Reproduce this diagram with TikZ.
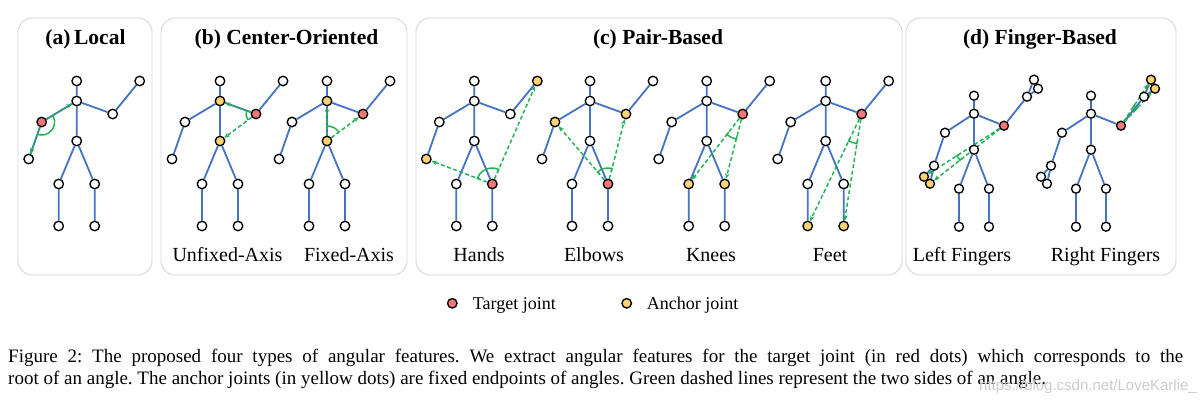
\documentclass[tikz,border=0pt]{standalone}
\usepackage{fontspec}
\setmainfont{Liberation Serif}
\newfontfamily\wmfont{Liberation Sans}
\usetikzlibrary{arrows.meta,calc,backgrounds}
\frenchspacing
\definecolor{tred}{RGB}{242,120,120}
\definecolor{tyel}{RGB}{255,210,115}
\definecolor{sblue}{RGB}{68,114,196}
\definecolor{ggreen}{RGB}{30,178,80}
\definecolor{boxgray}{RGB}{214,214,214}
\tikzset{
 jt/.style={circle, draw=black, line width=1.35pt, fill=white, minimum size=9.5pt, inner sep=0pt},
 jts/.style={jt, minimum size=9pt},
 jred/.style={fill=tred},
 jyel/.style={fill=tyel},
 bone/.style={draw=sblue, line width=1.8pt},
 gline/.style={draw=ggreen, line width=1.45pt, dash pattern=on 4pt off 2.5pt, -{Stealth[length=5.5pt,width=4.5pt]}},
 garc/.style={draw=ggreen, line width=1.45pt},
 panel/.style={draw=boxgray, line width=0.9pt, rounded corners=14pt},
 ttl/.style={font=\fontsize{21.5}{24}\selectfont\bfseries, anchor=base, inner sep=0pt},
 lbl/.style={font=\fontsize{20}{24}\selectfont, anchor=base, inner sep=0pt},
 leg/.style={font=\fontsize{18}{22}\selectfont, anchor=base west, inner sep=0pt},
 capt/.style={font=\fontsize{19}{22}\selectfont, anchor=base west, inner sep=0pt},
 c-a-lel/.style=jred,
 c-b1-rel/.style=jred, c-b1-ne/.style=jyel, c-b1-hip/.style=jyel,
 c-b2-rel/.style=jred, c-b2-ne/.style=jyel, c-b2-hip/.style=jyel,
 c-c1-rkn/.style=jred, c-c1-lha/.style=jyel, c-c1-rha/.style=jyel,
 c-c2-rkn/.style=jred, c-c2-lel/.style=jyel, c-c2-rel/.style=jyel,
 c-c3-rel/.style=jred, c-c3-lkn/.style=jyel, c-c3-rkn/.style=jyel,
 c-c4-rel/.style=jred, c-c4-lft/.style=jyel, c-c4-rft/.style=jyel,
 c-d1-rel/.style=jred, c-d1-lf1/.style=jyel, c-d1-lf2/.style=jyel,
 c-d2-rel/.style=jred, c-d2-rf1/.style=jyel, c-d2-rf2/.style=jyel,
}
\newcommand\stdskel[3]{%
 \node[jt,/tikz/c-#1-hd/.try] (#1-hd) at (#2,#3-20) {};
 \node[jt,/tikz/c-#1-ne/.try] (#1-ne) at (#2,#3) {};
 \node[jt,/tikz/c-#1-rel/.try] (#1-rel) at (#2+36,#3+13) {};
 \node[jt,/tikz/c-#1-rha/.try] (#1-rha) at (#2+63,#3-20) {};
 \node[jt,/tikz/c-#1-lel/.try] (#1-lel) at (#2-35,#3+21) {};
 \node[jt,/tikz/c-#1-lha/.try] (#1-lha) at (#2-48,#3+58) {};
 \node[jt,/tikz/c-#1-hip/.try] (#1-hip) at (#2,#3+40) {};
 \node[jt,/tikz/c-#1-lkn/.try] (#1-lkn) at (#2-18,#3+83) {};
 \node[jt,/tikz/c-#1-rkn/.try] (#1-rkn) at (#2+18,#3+83) {};
 \node[jt,/tikz/c-#1-lft/.try] (#1-lft) at (#2-18,#3+125) {};
 \node[jt,/tikz/c-#1-rft/.try] (#1-rft) at (#2+18,#3+125) {};
 \begin{pgfonlayer}{background}
 \draw[bone] (#1-hd)--(#1-ne) (#1-ne)--(#1-hip) (#1-ne)--(#1-lel)--(#1-lha)
   (#1-ne)--(#1-rel)--(#1-rha) (#1-hip)--(#1-lkn)--(#1-lft) (#1-hip)--(#1-rkn)--(#1-rft);
 \end{pgfonlayer}
}
\newcommand\fingskel[3]{%
 \node[jts,/tikz/c-#1-hd/.try] (#1-hd) at (#2,#3-18) {};
 \node[jts,/tikz/c-#1-ne/.try] (#1-ne) at (#2,#3) {};
 \node[jts,/tikz/c-#1-rel/.try] (#1-rel) at (#2+30,#3+12) {};
 \node[jts,/tikz/c-#1-rha/.try] (#1-rha) at (#2+53,#3-17) {};
 \node[jts,/tikz/c-#1-rf1/.try] (#1-rf1) at (#2+60,#3-34) {};
 \node[jts,/tikz/c-#1-rf2/.try] (#1-rf2) at (#2+64,#3-25) {};
 \node[jts,/tikz/c-#1-lel/.try] (#1-lel) at (#2-29,#3+19) {};
 \node[jts,/tikz/c-#1-lha/.try] (#1-lha) at (#2-40,#3+52) {};
 \node[jts,/tikz/c-#1-lf1/.try] (#1-lf1) at (#2-50,#3+63) {};
 \node[jts,/tikz/c-#1-lf2/.try] (#1-lf2) at (#2-44,#3+70) {};
 \node[jts,/tikz/c-#1-hip/.try] (#1-hip) at (#2,#3+36) {};
 \node[jts,/tikz/c-#1-lkn/.try] (#1-lkn) at (#2-15,#3+75) {};
 \node[jts,/tikz/c-#1-rkn/.try] (#1-rkn) at (#2+15,#3+75) {};
 \node[jts,/tikz/c-#1-lft/.try] (#1-lft) at (#2-15,#3+113) {};
 \node[jts,/tikz/c-#1-rft/.try] (#1-rft) at (#2+15,#3+113) {};
 \begin{pgfonlayer}{background}
 \draw[bone] (#1-hd)--(#1-ne) (#1-ne)--(#1-hip) (#1-ne)--(#1-lel)--(#1-lha)
   (#1-ne)--(#1-rel)--(#1-rha) (#1-hip)--(#1-lkn)--(#1-lft) (#1-hip)--(#1-rkn)--(#1-rft)
   (#1-rha)--(#1-rf1) (#1-rha)--(#1-rf2) (#1-lha)--(#1-lf1) (#1-lha)--(#1-lf2);
 \end{pgfonlayer}
}
\newcommand\angmark[5]{%
 \begin{pgfonlayer}{background}
 \draw[garc] let \p1=(#1), \p2=(#2), \p3=(#3),
   \n1={atan2(\y2-\y1,\x2-\x1)}, \n2={atan2(\y3-\y1,\x3-\x1)},
   \n3={mod(\n2-\n1+540,360)-180} in
   ($(\p1)+(\n1:{#4pt-#5pt})$) -- ($(\p1)+(\n1:#4pt)$)
   arc[start angle=\n1, delta angle=\n3, radius=#4pt]
   -- ($(\p1)+({\n1+\n3}:{#4pt-#5pt})$);
 \end{pgfonlayer}
}
\newcommand\garrows[3]{%
 \begin{pgfonlayer}{background}
 \draw[gline] (#1) -- (#2);
 \draw[gline] (#1) -- (#3);
 \end{pgfonlayer}
}
\begin{document}
\begin{tikzpicture}[x=1pt,y=-1pt]
\useasboundingbox (0,0) rectangle (1202,410);
\begin{pgfonlayer}{background}
\fill[white] (0,0) rectangle (1202,410);
\end{pgfonlayer}
% panels
\draw[panel] (18,18) rectangle (152,275);
\draw[panel] (161,18) rectangle (407,275);
\draw[panel] (416,18) rectangle (902,275);
\draw[panel] (906,18) rectangle (1176,275);
% titles
\node[ttl] (ta) at (85.5,44) {(a)\,Local};
\node[ttl] (tb) at (286.5,44) {(b) Center-Oriented};
\node[ttl] (tc) at (658,44) {(c) Pair-Based};
\node[ttl] (td) at (1040,44) {(d) Finger-Based};
% skeletons
\stdskel{a}{76.7}{101}
\stdskel{b1}{220}{101}
\stdskel{b2}{327}{101}
\stdskel{c1}{474.3}{101}
\stdskel{c2}{590}{101}
\stdskel{c3}{706.7}{101}
\stdskel{c4}{825.7}{101}
\fingskel{d1}{974}{113.7}
\fingskel{d2}{1091}{113.7}
% angle sides
\garrows{a-lel}{a-ne}{a-lha}
\garrows{b1-rel}{b1-ne}{b1-hip}
\garrows{b2-hip}{b2-ne}{b2-rel}
\garrows{c1-rkn}{c1-lha}{c1-rha}
\garrows{c2-rkn}{c2-lel}{c2-rel}
\garrows{c3-rel}{c3-lkn}{c3-rkn}
\garrows{c4-rel}{c4-lft}{c4-rft}
\garrows{d1-rel}{d1-lf1}{d1-lf2}
\garrows{d2-rel}{d2-rf1}{d2-rf2}
% angle marks
\angmark{a-lel}{a-ne}{a-lha}{13}{0}
\angmark{b1-rel}{b1-ne}{b1-hip}{10}{0}
\angmark{b2-hip}{b2-ne}{b2-rel}{15}{0}
\angmark{c1-rkn}{c1-lha}{c1-rha}{16}{3}
\angmark{c2-rkn}{c2-lel}{c2-rel}{16}{3}
\angmark{c3-rel}{c3-lkn}{c3-rkn}{26}{3}
\angmark{c4-rel}{c4-lft}{c4-rft}{30}{3}
\angmark{d1-rel}{d1-lf1}{d1-lf2}{56}{3}
\angmark{d2-rel}{d2-rf1}{d2-rf2}{24}{3}
% labels
\node[lbl] (l1) at (227.5,261) {Unfixed-Axis};
\node[lbl] (l2) at (349,261) {Fixed-Axis};
\node[lbl] (l3) at (479,261) {Hands};
\node[lbl] (l4) at (594,261) {Elbows};
\node[lbl] (l5) at (711,261) {Knees};
\node[lbl] (l6) at (830,261) {Feet};
\node[lbl] (l7) at (962,261) {Left Fingers};
\node[lbl] (l8) at (1105.5,261) {Right Fingers};
% legend
\node[jt,jred] (lgr) at (452.3,303.3) {};
\node[leg] (lgrt) at (472.7,309) {Target joint};
\node[jt,jyel] (lgy) at (626.7,303.3) {};
\node[leg] (lgyt) at (646.7,309) {Anchor joint};
% caption
\node[capt] (cap1) at (8,362) {\hbox to 1175pt{Figure 2: The proposed four types of angular features. We extract angular features for the target joint (in red dots) which corresponds to the}};
\node[capt] (cap2) at (8,384) {root of an angle. The anchor joints (in yellow dots) are fixed endpoints of angles. Green dashed lines represent the two sides of an angle.};
\node[font=\wmfont\fontsize{15}{18}\selectfont, text=black!20, anchor=base east, inner sep=0pt] (wm) at (1197,390) {https://blog.csdn.net/LoveKarlie\_};
\end{tikzpicture}
\end{document}
